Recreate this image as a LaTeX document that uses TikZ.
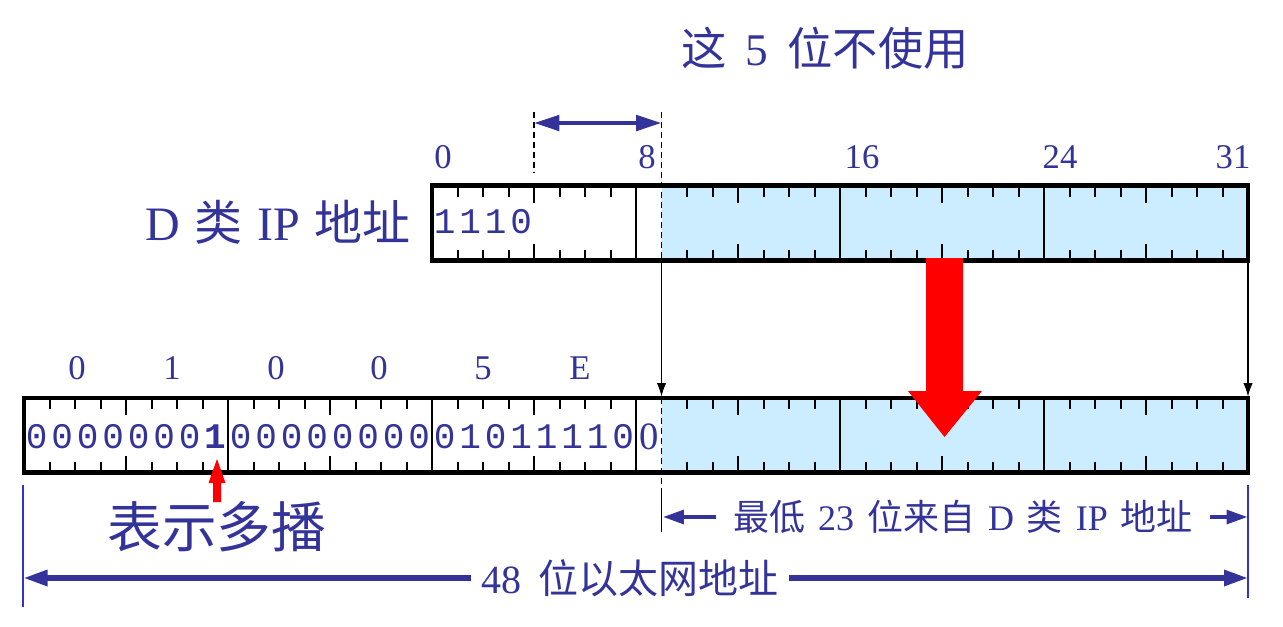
\documentclass[tikz,border=0pt]{standalone}
\usepackage{fontspec}
\setmainfont{Liberation Serif}
\newfontfamily\cjk{Noto Sans CJK SC}
\newfontfamily\monof{Liberation Mono}
\usetikzlibrary{arrows.meta}
\definecolor{navy}{RGB}{51,51,153}
\definecolor{lblue}{RGB}{204,236,255}
\definecolor{sideblue}{RGB}{51,51,204}
\newcommand\gapx{\hspace{0.42em}}
\newcommand\gapy{\hspace{0.3em}}
\newcommand\gapz{\hspace{0.36em}}
\begin{document}
\begin{tikzpicture}[x=0.75pt,y=-0.75pt,
  boxline/.style={line width=3.4pt},
  byteline/.style={line width=1.4pt},
  tickline/.style={line width=1.5pt},
  dashline/.style={line width=1.3pt,dash pattern=on 4.5pt off 3pt},
  bitdigit/.style={text=navy,font=\monof\fontsize{27}{27}\selectfont,inner sep=0pt,anchor=center},
  numlabel/.style={text=navy,font=\fontsize{26}{26}\selectfont,inner sep=0pt},
  dimarrow/.style={draw=navy,line width=3.4pt},
  thinarrow/.style={line width=0.8pt,-{Latex[length=10pt,width=7pt]}},
  sideline/.style={draw=sideblue,line width=1.2pt},
]
\useasboundingbox (0,0) rectangle (1283,626);

% ---------- top box (class D IP) ----------
\fill[lblue] (661.5,185.5) rectangle (1248,260.5);
\foreach \k in {1,...,31}{
  \pgfmathsetmacro\xx{432+25.5*\k}
  \pgfmathtruncatemacro\m{mod(\k,8)}
  \pgfmathtruncatemacro\n{mod(\k,4)}
  \ifnum\k=9\relax\else
    \ifnum\m=0\relax
      \draw[byteline] (\xx,185.5) -- (\xx,260.5);
    \else
      \ifnum\n=0\relax\def\tl{17}\else\def\tl{11}\fi
      \draw[tickline] (\xx,185.5) -- ++(0,\tl) (\xx,260.5) -- ++(0,-\tl);
    \fi
  \fi
}
\draw[dashline] (534,112) -- (534,173);
\draw[dashline] (661.5,112) -- (661.5,260.5);
\draw[boxline] (432,185.5) rectangle (1248,260.5);

\foreach \b [count=\i from 0] in {1,1,1,0}
  \node[bitdigit] (ta\i) at ({432+25.5*\i+12.75},222) {\b};

% bit position labels
\node[numlabel] (p0) at (443,157) {0};
\node[numlabel] (p8) at (647,157) {8};
\node[numlabel] (p16) at (862,157) {16};
\node[numlabel] (p24) at (1060,157) {24};
\node[numlabel] (p31) at (1233,157) {31};

% 5 unused bits
\coordinate (u1) at (534,123);
\coordinate (u2) at (661.5,123);
\draw[dimarrow,line width=3pt,{Triangle[length=19pt,width=11.5pt]}-{Triangle[length=19pt,width=11.5pt]}] (u1) -- (u2);
\node[text=navy,font=\fontsize{34}{34}\selectfont] (title) at (825,48) {{\cjk 这}\gapx 5\gapx{\cjk 位不使用}};

\node[text=navy,font=\fontsize{36}{36}\selectfont] (dip) at (278,222) {D\gapy{\cjk 类}\gapy IP\gapy{\cjk 地址}};

% ---------- bottom box (Ethernet) ----------
\fill[lblue] (661.5,398) rectangle (1248,472.5);
\foreach \k in {1,...,47}{
  \pgfmathsetmacro\xx{24+25.5*\k}
  \pgfmathtruncatemacro\m{mod(\k,8)}
  \pgfmathtruncatemacro\n{mod(\k,4)}
  \ifnum\k=25\relax\else
    \ifnum\m=0\relax
      \draw[byteline] (\xx,398) -- (\xx,472.5);
    \else
      \ifnum\n=0\relax\def\tl{17}\else\def\tl{11}\fi
      \draw[tickline] (\xx,398) -- ++(0,\tl) (\xx,472.5) -- ++(0,-\tl);
    \fi
  \fi
}
\draw[dashline] (661.5,398) -- (661.5,490);
\draw[line width=1.1pt] (661.5,490) -- (661.5,532);
\draw[boxline] (24,398) rectangle (1248,472.5);

\foreach \b [count=\i from 0] in {0,0,0,0,0,0,0}
  \node[bitdigit] (ba\i) at ({24+25.5*\i+12.75},437) {\b};
\node[bitdigit,font=\monof\bfseries\fontsize{27}{27}\selectfont] (bone) at ({24+25.5*7+12.75},437) {1};
\foreach \b [count=\i from 8] in {0,0,0,0,0,0,0,0,0,1,0,1,1,1,1,0}
  \node[bitdigit] (bb\i) at ({24+25.5*\i+12.75},437) {\b};
\node[numlabel,font=\fontsize{29}{29}\selectfont] (bz) at (649,437) {0};

% hex labels
\node[numlabel] (h0) at (77,368) {0};
\node[numlabel] (h1) at (172,368) {1};
\node[numlabel] (h2) at (276,368) {0};
\node[numlabel] (h3) at (379,368) {0};
\node[numlabel] (h4) at (483,368) {5};
\node[numlabel] (h5) at (580,368) {E};

% ---------- mapping arrows ----------
\coordinate (t9) at (661.5,262.5);
\coordinate (b25) at (661.5,396.5);
\coordinate (t32) at (1248,262.5);
\coordinate (b48) at (1248,396.5);
\draw[thinarrow] (t9) -- (b25);
\draw[thinarrow] (t32) -- (b48);

\fill[red] (926,258) -- (963,258) -- (963,391) -- (982,391) -- (944.5,437) -- (908,391) -- (926,391) -- cycle;

% multicast bit marker
\fill[red] (213,502) -- (221,502) -- (221,483) -- (225.5,483) -- (217,459) -- (208.5,483) -- (213,483) -- cycle;
\node[text=navy,font=\cjk\fontsize{41}{41}\selectfont] (mc) at (217,527) {表示多播};

% ---------- dimension lines ----------
\draw[sideline] (23,485) -- (23,607);
\draw[sideline] (1248,485) -- (1248,598);

\node[text=navy,font=\fontsize{27}{27}\selectfont,inner xsep=13pt] (low23) at (963,517) {{\cjk 最低}\gapz 23\gapz{\cjk 位来自}\gapz D\gapz{\cjk 类}\gapz IP\gapz{\cjk 地址}};
\coordinate (l23a) at (662.5,517);
\coordinate (l23b) at (1248,517);
\draw[dimarrow,-{Triangle[length=16pt,width=10pt]}] (low23.west) -- (l23a);
\draw[dimarrow,-{Triangle[length=16pt,width=10pt]}] (low23.east) -- (l23b);

\node[text=navy,font=\fontsize{30}{30}\selectfont,inner xsep=8pt] (eth48) at (630,578) {48\gapx{\cjk 位以太网地址}};
\coordinate (l48a) at (23.5,578);
\coordinate (l48b) at (1248,578);
\draw[dimarrow,line width=3.8pt,-{Triangle[length=18pt,width=11.5pt]}] (eth48.west) -- (l48a);
\draw[dimarrow,line width=3.8pt,-{Triangle[length=18pt,width=11.5pt]}] (eth48.east) -- (l48b);
\end{tikzpicture}
\end{document}
